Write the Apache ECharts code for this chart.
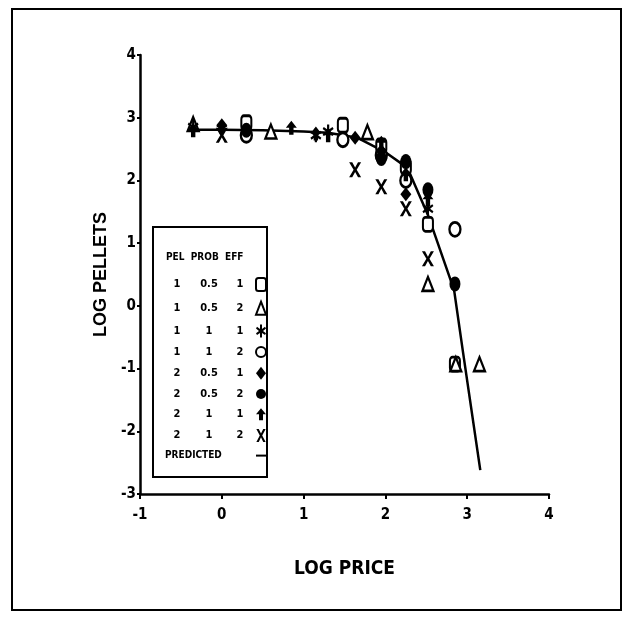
<!DOCTYPE html>
<html>
<head>
<meta charset="utf-8">
<script src="https://cdn.jsdelivr.net/npm/echarts@6/dist/echarts.min.js"></script>
<style>html,body{margin:0;padding:0;background:#fff}#c{width:629px;height:618px}</style>
</head>
<body>
<div id="c"></div>
<script>
// ---- data ----
const xTicks = [-1, 0, 1, 2, 3, 4];
const yTicks = [-3, -2, -1, 0, 1, 2, 3, 4];
const groupNames = ['1|0.5|1', '1|0.5|2', '1|1|1', '1|1|2', '2|0.5|1', '2|0.5|2', '2|1|1', '2|1|2'];
const s1 = [[0.3, 2.92], [1.48, 2.88], [1.95, 2.55], [2.25, 2.22], [2.52, 1.3], [2.85, -0.93]];
const s2 = [[-0.35, 2.9], [0.6, 2.78], [1.78, 2.77], [2.52, 0.35], [2.86, -0.93], [3.15, -0.93]];
const s3 = [[-0.35, 2.85], [1.15, 2.72], [1.3, 2.78], [2.52, 1.55]];
const s4 = [[0.3, 2.72], [1.48, 2.65], [1.95, 2.4], [2.25, 2.0], [2.85, 1.22]];
const s5 = [[0, 2.88], [1.63, 2.68], [1.95, 2.47], [2.25, 1.78]];
const s6 = [[0.3, 2.8], [1.95, 2.35], [2.25, 2.3], [2.52, 1.85], [2.85, 0.35]];
const s7 = [[-0.35, 2.8], [0, 2.85], [0.85, 2.84], [1.15, 2.75], [1.3, 2.72], [1.95, 2.6], [2.25, 2.1], [2.52, 1.7]];
const s8 = [[0, 2.72], [1.63, 2.17], [1.95, 1.9], [2.25, 1.55], [2.52, 0.75]];
const predX = [-0.39, 0, 0.5, 1.0, 1.3, 1.66, 1.85, 2.0, 2.27, 2.52, 2.84, 2.95, 3.16];
const predY = [2.81, 2.81, 2.80, 2.78, 2.76, 2.68, 2.55, 2.45, 2.20, 1.45, 0.25, -0.75, -2.62];

// ---- styles ----
const FONT = '"DejaVu Sans Condensed", "Liberation Sans Narrow", sans-serif';
const seriesData = [s1, s2, s3, s4, s5, s6, s7, s8];
const symbols = [
  {symbol: 'roundRect', size: [10, 14], style: {color: '#fff', borderColor: '#000', borderWidth: 2.4, opacity: 1}},
  {symbol: 'triangle', size: [11, 14], style: {color: '#fff', borderColor: '#000', borderWidth: 2.4, opacity: 1}},
  {symbol: 'path://M4,0h2v4.5l3,-2.2 1,1.8-3,2.4 3,2.4-1,1.8-3,-2.2v4.5h-2v-4.5l-3,2.2-1,-1.8 3,-2.4-3,-2.4 1,-1.8 3,2.2z', size: [11, 14], style: {color: '#000', opacity: 1}},
  {symbol: 'circle', size: [11, 14], style: {color: '#fff', borderColor: '#000', borderWidth: 2.6, opacity: 1}},
  {symbol: 'diamond', size: [11, 14], style: {color: '#000', opacity: 1}},
  {symbol: 'circle', size: [11, 15], style: {color: '#000', opacity: 1}},
  {symbol: 'path://M5,0L10,6L7,6L7,12L3,12L3,6L0,6Z', size: [11, 14], style: {color: '#000', opacity: 1}},
  {symbol: 'path://M0,0h2.6l2.4,5 2.4,-5h2.6l-3.7,7 3.7,7h-2.6l-2.4,-5 -2.4,5h-2.6l3.7,-7z', size: [12, 15], style: {color: '#000', opacity: 1}}
];

const series = seriesData.map((d, i) => ({
  name: groupNames[i],
  type: 'scatter',
  data: d,
  symbol: symbols[i].symbol,
  symbolSize: symbols[i].size,
  itemStyle: symbols[i].style,
  z: 3
}));
series.push({
  name: 'PREDICTED',
  type: 'line',
  data: predX.map((x, i) => [x, predY[i]]),
  showSymbol: false,
  symbol: 'none',
  lineStyle: {color: '#000', width: 2.5},
  itemStyle: {color: '#000'},
  z: 2
});

const chart = echarts.init(document.getElementById('c'), null, {renderer: 'canvas'});
chart.setOption({
  animation: false,
  backgroundColor: '#fff',
  grid: {left: 140, right: 80, top: 55, bottom: 124},
  xAxis: {
    type: 'value', min: -1, max: 4, interval: 1,
    axisLine: {onZero: false, lineStyle: {color: '#000', width: 2.5}},
    axisTick: {show: true, length: 5, lineStyle: {color: '#000', width: 2}},
    splitLine: {show: false},
    axisLabel: {color: '#000', fontFamily: FONT, fontWeight: 'bold', fontSize: 15, margin: 14,
      formatter: v => xTicks.includes(v) ? String(v) : ''},
    name: 'LOG PRICE', nameLocation: 'middle', nameGap: 66,
    nameTextStyle: {color: '#000', fontFamily: FONT, fontWeight: 'bold', fontSize: 19}
  },
  yAxis: {
    type: 'value', min: -3, max: 4, interval: 1,
    axisLine: {onZero: false, lineStyle: {color: '#000', width: 2.5}},
    axisTick: {show: true, length: 3, lineStyle: {color: '#000', width: 2}},
    splitLine: {show: false},
    axisLabel: {color: '#000', fontFamily: FONT, fontWeight: 'bold', fontSize: 15, margin: 4,
      formatter: v => yTicks.includes(v) ? String(v) : ''},
    name: 'LOG PELLETS', nameLocation: 'middle', nameGap: 30,
    nameTextStyle: {color: '#000', fontFamily: '"Liberation Sans", Arial, sans-serif', fontWeight: 'bold', fontSize: 18}
  },
  legend: {
    orient: 'vertical', left: 160, top: 272, align: 'right',
    itemWidth: 10, itemHeight: 13, itemGap: 8.7,
    selectedMode: false,
    formatter: function (name) {
      if (name === 'PREDICTED') return '{p|PREDICTED}';
      const p = name.split('|');
      return '{a|' + p[0] + '}{b|' + p[1] + '}{c|' + p[2] + '}';
    },
    textStyle: {
      color: '#000', fontFamily: FONT, fontWeight: 'bold', fontSize: 11,
      rich: {
        a: {width: 24, align: 'center', fontFamily: FONT, fontWeight: 'bold', fontSize: 11},
        b: {width: 40, align: 'center', fontFamily: FONT, fontWeight: 'bold', fontSize: 11},
        c: {width: 22, align: 'center', fontFamily: FONT, fontWeight: 'bold', fontSize: 11},
        p: {width: 86, align: 'left', fontFamily: FONT, fontWeight: 'bold', fontSize: 10}
      }
    },
    data: groupNames.concat([{name: 'PREDICTED', icon: 'path://M0,5h10v2h-10z'}])
  },
  graphic: [
    {type: 'rect', shape: {x: 12, y: 9, width: 609, height: 601}, style: {fill: 'none', stroke: '#000', lineWidth: 2}, silent: true},
    {type: 'rect', shape: {x: 153, y: 227, width: 114, height: 250}, style: {fill: '#fff', stroke: '#000', lineWidth: 2}, silent: true, z: 1},
    {type: 'text', left: 166, top: 252, style: {text: 'PEL  PROB  EFF', fill: '#000', font: 'bold 10px ' + FONT}, z: 2}
  ],
  series: series
});
</script>
</body>
</html>
